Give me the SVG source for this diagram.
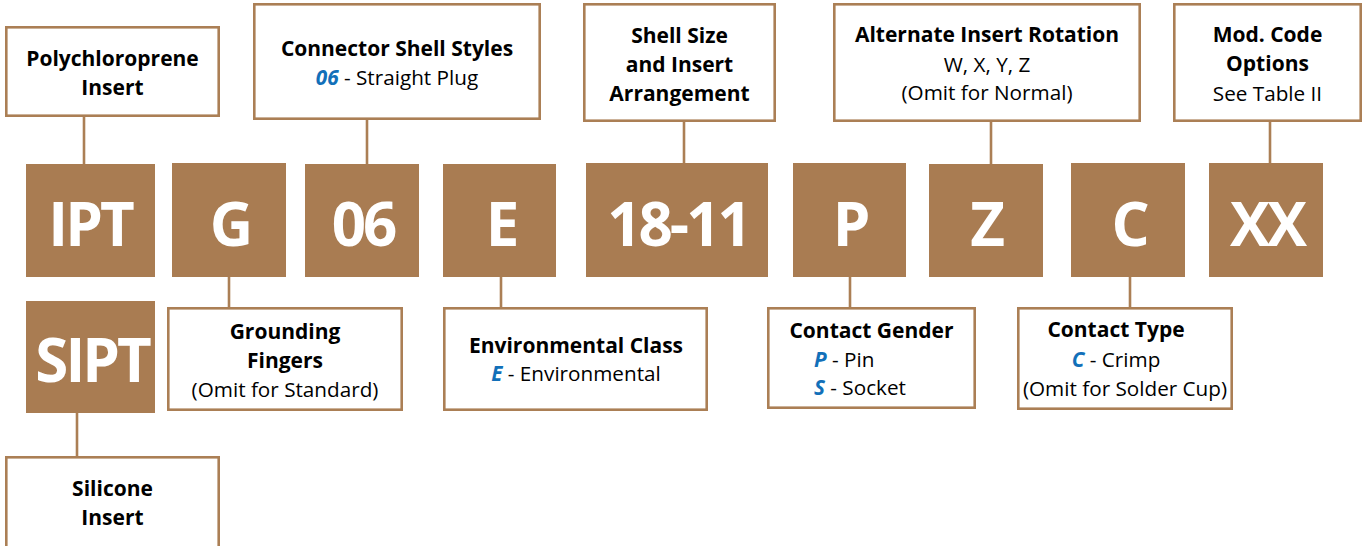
<svg xmlns="http://www.w3.org/2000/svg" width="1363" height="546" viewBox="0 0 1363 546">
<style>
.lbl{fill:#fff;stroke:#ab7f55;stroke-width:2.6}
.code{fill:#a97c52}
.ct{fill:#fff;font-family:"Open Sans","Noto Sans",sans-serif;font-weight:700;font-size:60px;text-anchor:middle;letter-spacing:-3px}
.b{font-family:"Open Sans","Noto Sans",sans-serif;font-weight:700;font-size:21px;fill:#000;text-anchor:middle}
.r{font-family:"Open Sans","Noto Sans",sans-serif;font-weight:400;font-size:20.7px;fill:#000;text-anchor:middle}
.st{text-anchor:start}
.bl{fill:#1270b9;font-weight:700;font-style:italic}
.cn{stroke:#ab7f55;stroke-width:2.6;fill:none}
</style>
<g id="connectors">
<line class="cn" x1="84" y1="117" x2="84" y2="164"/>
<line class="cn" x1="367" y1="120" x2="367" y2="164"/>
<line class="cn" x1="684" y1="122" x2="684" y2="163"/>
<line class="cn" x1="991" y1="122" x2="991" y2="164"/>
<line class="cn" x1="1270" y1="122" x2="1270" y2="163"/>
<line class="cn" x1="229" y1="277" x2="229" y2="307"/>
<line class="cn" x1="501" y1="277" x2="501" y2="307"/>
<line class="cn" x1="850" y1="277" x2="850" y2="307"/>
<line class="cn" x1="1130" y1="277" x2="1130" y2="307"/>
<line class="cn" x1="77" y1="413" x2="77" y2="456"/>
</g>
<g id="code-IPT"><rect class="code" x="26" y="164" width="129" height="113"/><text class="ct" x="90" y="246">IPT</text></g>
<g id="code-SIPT"><rect class="code" x="26" y="301" width="129" height="112"/><text class="ct" x="92" y="382">SIPT</text></g>
<g id="code-G"><rect class="code" x="172" y="163" width="114" height="114"/><text class="ct" x="230" y="246">G</text></g>
<g id="code-06"><rect class="code" x="305" y="164" width="114" height="113"/><text class="ct" x="363" y="246">06</text></g>
<g id="code-E"><rect class="code" x="443" y="164" width="113" height="113"/><text class="ct" x="501" y="246">E</text></g>
<g id="code-18-11"><rect class="code" x="586" y="163" width="182" height="114"/><text class="ct" x="678" y="246">18-11</text></g>
<g id="code-P"><rect class="code" x="793" y="163" width="113" height="114"/><text class="ct" x="850" y="246">P</text></g>
<g id="code-Z"><rect class="code" x="929" y="164" width="114" height="113"/><text class="ct" x="986" y="246">Z</text></g>
<g id="code-C"><rect class="code" x="1071" y="163" width="114" height="114"/><text class="ct" x="1129" y="246">C</text></g>
<g id="code-XX"><rect class="code" x="1209" y="163" width="114" height="114"/><text class="ct" x="1267" y="246">XX</text></g>

<g id="lbl-poly"><rect class="lbl" x="6.3" y="27.3" width="212.4" height="88.4"/>
<text class="b" x="112.5" y="66">Polychloroprene</text><text class="b" x="112.5" y="95">Insert</text></g>
<g id="lbl-shell"><rect class="lbl" x="254.3" y="4.3" width="285.4" height="114.4"/>
<text class="b" x="397" y="56">Connector Shell Styles</text>
<text class="r" x="397" y="85"><tspan class="bl">06</tspan> - Straight Plug</text></g>
<g id="lbl-size"><rect class="lbl" x="584.3" y="4.3" width="190.4" height="116.4"/>
<text class="b" x="679.5" y="43">Shell Size</text><text class="b" x="679.5" y="72">and Insert</text><text class="b" x="679.5" y="101">Arrangement</text></g>
<g id="lbl-rot"><rect class="lbl" x="834.3" y="4.3" width="305.4" height="116.4"/>
<text class="b" x="987" y="42">Alternate Insert Rotation</text><text class="r" x="987" y="72">W, X, Y, Z</text><text class="r" x="987" y="100">(Omit for Normal)</text></g>
<g id="lbl-mod"><rect class="lbl" x="1174.3" y="4.3" width="186.4" height="116.4"/>
<text class="b" x="1267.5" y="42">Mod. Code</text><text class="b" x="1267.5" y="71">Options</text><text class="r" x="1267.5" y="101">See Table II</text></g>
<g id="lbl-ground"><rect class="lbl" x="168.3" y="308.3" width="233.4" height="101.4"/>
<text class="b" x="285" y="339">Grounding</text><text class="b" x="285" y="368">Fingers</text><text class="r" x="285" y="397">(Omit for Standard)</text></g>
<g id="lbl-env"><rect class="lbl" x="444.3" y="308.3" width="262.4" height="101.4"/>
<text class="b" x="576" y="353">Environmental Class</text>
<text class="r" x="576" y="381"><tspan class="bl">E</tspan> - Environmental</text></g>
<g id="lbl-gender"><rect class="lbl" x="768.3" y="308.3" width="206.4" height="99.4"/>
<text class="b" x="871.5" y="338">Contact Gender</text>
<text class="r st" x="814" y="367"><tspan class="bl">P</tspan> - Pin</text>
<text class="r st" x="814" y="395"><tspan class="bl">S</tspan> - Socket</text></g>
<g id="lbl-type"><rect class="lbl" x="1018.3" y="308.3" width="213.4" height="100.4"/>
<text class="b" x="1116" y="337">Contact Type</text>
<text class="r" x="1116" y="367"><tspan class="bl">C</tspan> - Crimp</text>
<text class="r" x="1125" y="396">(Omit for Solder Cup)</text></g>
<g id="lbl-sil"><rect class="lbl" x="6.3" y="457.3" width="212.4" height="100"/>
<text class="b" x="112.5" y="496">Silicone</text><text class="b" x="112.5" y="525">Insert</text></g>
</svg>
